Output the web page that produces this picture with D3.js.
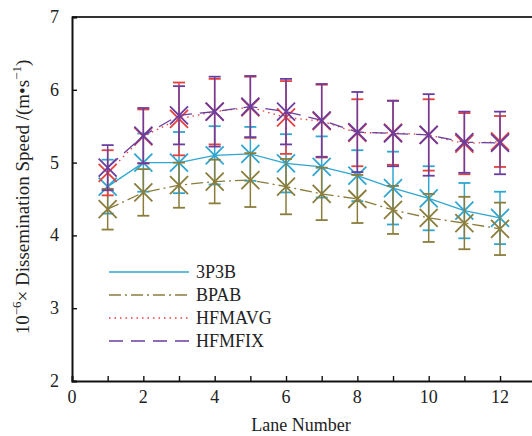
<!DOCTYPE html>
<html>
<head>
<meta charset="utf-8">
<script src="https://cdn.jsdelivr.net/npm/d3@7"></script>
<style>
  body { margin: 0; background: #fff; }
</style>
</head>
<body>
<script>
'use strict';

var lanes = [1, 2, 3, 4, 5, 6, 7, 8, 9, 10, 11, 12];

var speed3P3B = [4.67, 5.0, 5.0, 5.1, 5.12, 4.99, 4.94, 4.82, 4.65, 4.51, 4.34, 4.24];
var err3P3B   = [0.37, 0.40, 0.42, 0.40, 0.37, 0.40, 0.42, 0.35, 0.50, 0.44, 0.38, 0.36];

var speedBPAB = [4.36, 4.59, 4.69, 4.74, 4.76, 4.67, 4.57, 4.50, 4.35, 4.24, 4.17, 4.09];
var errBPAB   = [0.28, 0.32, 0.31, 0.30, 0.37, 0.38, 0.36, 0.33, 0.33, 0.33, 0.36, 0.36];

var speedHFMAVG = [4.86, 5.36, 5.60, 5.70, 5.76, 5.62, 5.57, 5.41, 5.41, 5.38, 5.26, 5.29];
var errHFMAVG   = [0.31, 0.37, 0.50, 0.45, 0.42, 0.50, 0.50, 0.46, 0.44, 0.49, 0.42, 0.35];

var speedHFMFIX = [4.93, 5.37, 5.65, 5.70, 5.77, 5.70, 5.58, 5.42, 5.40, 5.38, 5.28, 5.27];
var errHFMFIX   = [0.31, 0.38, 0.40, 0.48, 0.42, 0.45, 0.50, 0.55, 0.45, 0.56, 0.42, 0.43];

var seriesNames = ["3P3B", "BPAB", "HFMAVG", "HFMFIX"];
var xTicks = [0, 2, 4, 6, 8, 10, 12];
var yTicks = [2, 3, 4, 5, 6, 7];

var series = [
  {name: seriesNames[0], vals: speed3P3B,   errs: err3P3B,   color: "#2fa6d1", dash: null},
  {name: seriesNames[1], vals: speedBPAB,   errs: errBPAB,   color: "#8a7d3c", dash: "12,4,2,4"},
  {name: seriesNames[2], vals: speedHFMAVG, errs: errHFMAVG, color: "#e5413d", dash: "1.5,4"},
  {name: seriesNames[3], vals: speedHFMFIX, errs: errHFMFIX, color: "#6a3d9e", dash: "14,8"}
];

var FONT = "Liberation Serif";
var width = 532, height = 436;
var svg = d3.select("body").append("svg")
    .attr("width", width)
    .attr("height", height)
    .style("font-family", FONT);

// scales
var x = d3.scaleLinear().domain([0, 13]).range([72, 535.7]);
var y = d3.scaleLinear().domain([2, 7]).range([381, 17]);

// top frame line
svg.append("line")
    .attr("x1", x(0)).attr("x2", width)
    .attr("y1", y(7)).attr("y2", y(7))
    .attr("stroke", "#333").attr("stroke-width", 2);

// axes
var xAxis = svg.append("g")
    .attr("transform", "translate(0," + y(2) + ")")
    .call(d3.axisBottom(x).tickValues(d3.range(0, 14)).tickSize(-5).tickFormat(""));
xAxis.selectAll("path, line").attr("stroke", "#111").attr("stroke-width", 1.4);
xAxis.select(".domain").attr("stroke-width", 1.8);

svg.selectAll(".xlab")
    .data(xTicks)
  .enter().append("text")
    .attr("x", function(d) { return x(d); })
    .attr("y", y(2) + 22)
    .style("font-family", FONT)
    .style("text-anchor", "middle")
    .style("font-size", "18px")
    .style("fill", "#222")
    .text(function(d) { return d; });

var yAxis = svg.append("g")
    .attr("transform", "translate(" + x(0) + ",0)")
    .call(d3.axisLeft(y).tickValues(yTicks).tickSize(-5).tickFormat(""));
yAxis.selectAll("path, line").attr("stroke", "#111").attr("stroke-width", 1.4);
yAxis.select(".domain").attr("stroke-width", 2);

svg.selectAll(".ylab")
    .data(yTicks)
  .enter().append("text")
    .attr("x", 59)
    .attr("y", function(d) { return y(d) + 6; })
    .style("font-family", FONT)
    .style("text-anchor", "end")
    .style("font-size", "18px")
    .style("fill", "#222")
    .text(function(d) { return d; });

// axis titles
svg.append("text")
    .attr("x", 301)
    .attr("y", 431)
    .style("font-family", FONT)
    .style("text-anchor", "middle")
    .style("font-size", "18px")
    .style("fill", "#222")
    .text("Lane Number");

var yt = svg.append("text")
    .attr("transform", "translate(29,197) rotate(-90)")
    .style("font-family", FONT)
    .style("text-anchor", "middle")
    .style("font-size", "19px")
    .style("fill", "#222");
yt.append("tspan").text("10");
yt.append("tspan").attr("dy", -8).style("font-size", "13px").text("\u22126");
yt.append("tspan").attr("dy", 8).text("\u00d7 Dissemination Speed /(m\u2022s");
yt.append("tspan").attr("dy", -8).style("font-size", "13px").text("\u22121");
yt.append("tspan").attr("dy", 8).text(")");

// series
var cap = 6, mk = 9;
series.forEach(function(s) {
  var pts = lanes.map(function(l, i) { return {x: l, v: s.vals[i], e: s.errs[i]}; });
  var g = svg.append("g");

  // error bars
  var eb = g.selectAll(".eb").data(pts).enter().append("g");
  eb.append("line")
      .attr("x1", function(d) { return x(d.x); }).attr("x2", function(d) { return x(d.x); })
      .attr("y1", function(d) { return y(d.v - d.e); }).attr("y2", function(d) { return y(d.v + d.e); })
      .attr("stroke", s.color).attr("stroke-width", 1.5);
  [-1, 1].forEach(function(sg) {
    eb.append("line")
        .attr("x1", function(d) { return x(d.x) - cap; }).attr("x2", function(d) { return x(d.x) + cap; })
        .attr("y1", function(d) { return y(d.v + sg * d.e); }).attr("y2", function(d) { return y(d.v + sg * d.e); })
        .attr("stroke", s.color).attr("stroke-width", 1.8);
  });

  // line
  var line = d3.line()
      .x(function(d) { return x(d.x); })
      .y(function(d) { return y(d.v); });
  g.append("path")
      .datum(pts)
      .attr("d", line)
      .attr("fill", "none")
      .attr("stroke", s.color)
      .attr("stroke-width", 1.3)
      .attr("stroke-dasharray", s.dash);

  // X markers
  g.selectAll(".mk").data(pts).enter().append("path")
      .attr("d", function(d) {
        var cx = x(d.x), cy = y(d.v);
        return "M" + (cx - mk) + "," + (cy - mk) + "L" + (cx + mk) + "," + (cy + mk) +
               "M" + (cx - mk) + "," + (cy + mk) + "L" + (cx + mk) + "," + (cy - mk);
      })
      .attr("stroke", s.color)
      .attr("stroke-width", 1.8)
      .attr("fill", "none");
});

// legend
var legend = svg.selectAll(".legend")
    .data(series)
  .enter().append("g")
    .attr("transform", function(d, i) { return "translate(0," + (272 + i * 23) + ")"; });

legend.append("line")
    .attr("x1", 109).attr("x2", 189)
    .attr("y1", 0).attr("y2", 0)
    .attr("stroke", function(d) { return d.color; })
    .attr("stroke-width", 1.5)
    .attr("stroke-dasharray", function(d) { return d.dash; });

legend.append("text")
    .attr("x", 196)
    .attr("y", 6)
    .style("font-family", FONT)
    .style("font-size", "18px")
    .style("fill", "#222")
    .text(function(d) { return d.name; });
</script>
</body>
</html>
